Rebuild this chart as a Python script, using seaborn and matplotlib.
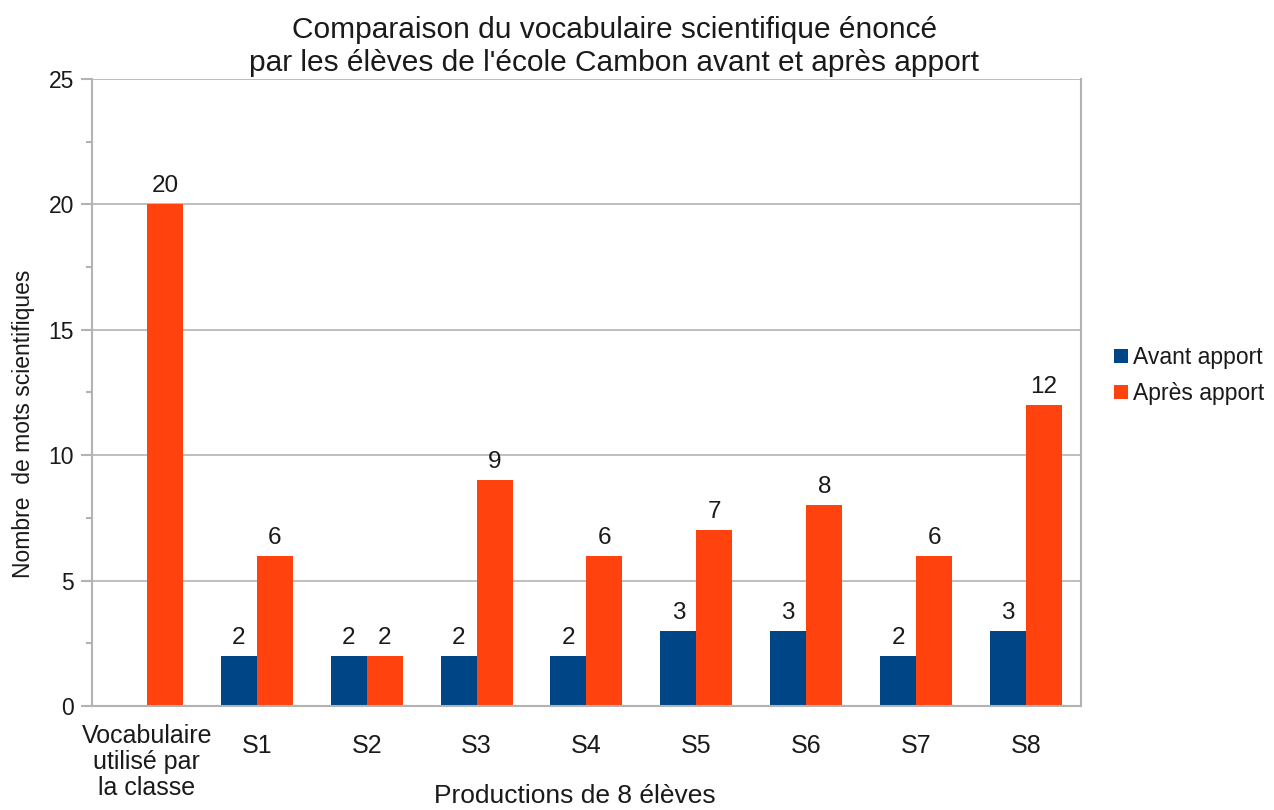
import numpy as np
import pandas as pd
import matplotlib
matplotlib.use("Agg")
import matplotlib.pyplot as plt
import matplotlib.transforms as mtransforms
import seaborn as sns
from matplotlib.ticker import MultipleLocator

categories = ["Vocabulaire\nutilisé par\nla classe", "S1", "S2", "S3", "S4", "S5", "S6", "S7", "S8"]
avant = [np.nan, 2, 2, 2, 2, 3, 3, 2, 3]
apres = [20, 6, 2, 9, 6, 7, 8, 6, 12]
series = ["Avant apport", "Après apport"]
colors = ["#004586", "#ff420e"]

sns.set_theme(style="white")
plt.rcParams['font.family'] = ['Liberation Sans', 'DejaVu Sans']

df = pd.DataFrame({
    "cat": categories * 2,
    "val": avant + apres,
    "serie": [series[0]] * len(categories) + [series[1]] * len(categories),
})

fig = plt.figure(figsize=(12.74, 8.10), dpi=100)
ax = fig.add_axes([0.0722, 0.1284, 0.7763, 0.7741])

sns.barplot(data=df, x="cat", y="val", hue="serie", hue_order=series,
            palette=colors, width=0.655, gap=0, ax=ax, saturation=1,
            edgecolor="none", linewidth=0)

for cont in ax.containers:
    for bar in cont:
        if bar is None:
            continue
        h = bar.get_height()
        if h is None or np.isnan(h):
            continue
        ax.annotate(f"{int(round(h))}", (bar.get_x() + bar.get_width() / 2, h),
                    xytext=(0, 5), textcoords="offset points", ha="center", va="bottom",
                    fontsize=17.5, color="#1a1a1a")

ax.set_ylim(0, 25)
ax.set_xlim(-0.5, len(categories) - 0.5)
ax.yaxis.set_major_locator(MultipleLocator(5))
ax.yaxis.set_minor_locator(MultipleLocator(2.5))
ax.yaxis.grid(True, which="major", color="#b3b3b3", linewidth=1.2)
ax.set_axisbelow(True)

for s in ["left", "bottom", "right"]:
    ax.spines[s].set_visible(True)
    ax.spines[s].set_color("#b3b3b3")
    ax.spines[s].set_linewidth(1.5)
ax.spines["top"].set_visible(False)

ax.set_xticks(np.arange(len(categories)))
ax.set_xticklabels(categories, fontsize=18, color="#1a1a1a", linespacing=1.12)
ax.set_xticks(np.arange(-0.5, len(categories)), minor=True)
ax.tick_params(axis="x", which="major", length=0, pad=20)
ax.tick_params(axis="x", which="minor", length=8, color="#b3b3b3", width=1.5, direction="out")
ax.tick_params(axis="y", which="major", length=8, color="#b3b3b3", width=1.5, labelsize=16.5,
               labelcolor="#1a1a1a", direction="out", left=True, pad=5)
ax.tick_params(axis="y", which="minor", length=4, color="#b3b3b3", width=1.5, direction="out", left=True)

# first (multi-line) label sits a little higher than the others
first = ax.get_xticklabels()[0]
first.set_transform(first.get_transform() + mtransforms.ScaledTranslation(0, 10 / 100, fig.dpi_scale_trans))

ax.set_xlabel("Productions de 8 élèves", fontsize=19, color="#1a1a1a")
ax.xaxis.set_label_coords(0.488, -0.125)
ax.set_ylabel("Nombre  de mots scientifiques", fontsize=16.5, color="#1a1a1a")
ax.yaxis.set_label_coords(-0.058, 0.45)
ax.set_title("Comparaison du vocabulaire scientifique énoncé\npar les élèves de l'école Cambon avant et après apport",
             fontsize=21.5, color="#1a1a1a", pad=6, x=0.528, linespacing=1.2)

leg = ax.legend(loc="center left", bbox_to_anchor=(1.024, 0.527), frameon=False,
                fontsize=16.5, handlelength=0.6, handleheight=0.6, handletextpad=0.25,
                labelspacing=0.55, borderaxespad=0)
for t in leg.get_texts():
    t.set_color("#1a1a1a")

fig.savefig("out.png", dpi=100)
